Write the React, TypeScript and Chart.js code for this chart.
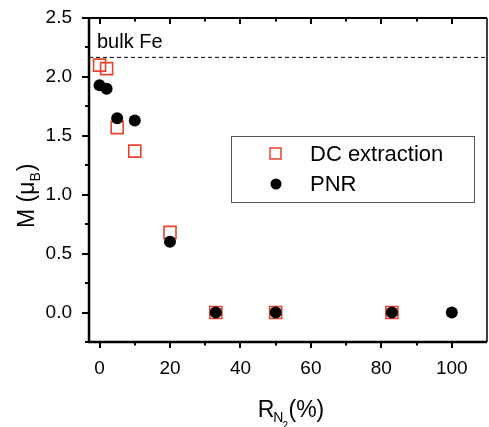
import React, { useEffect, useRef } from "react";
import { Chart, registerables } from "chart.js";

Chart.register(...registerables);

// Nitrogen ratio R_N2 (%) for each sample
const dcRatio = [0, 2, 5, 10, 20, 33, 50, 83];
const dcMoment = [2.1, 2.07, 1.57, 1.37, 0.68, 0, 0, 0];

const pnrRatio = [0, 2, 5, 10, 20, 33, 50, 83, 100];
const pnrMoment = [1.93, 1.9, 1.65, 1.63, 0.6, 0, 0, 0, 0];

// Moment of bulk iron (μB per atom)
const BULK_FE = 2.17;

const xMajorTicks = [0, 20, 40, 60, 80, 100];
const xMinorTicks = [10, 30, 50, 70, 90];
const yMajorTicks = [0, 0.5, 1.0, 1.5, 2.0, 2.5];
const yMinorTicks = [-0.25, 0.25, 0.75, 1.25, 1.75, 2.25];

const RED = "#e8432d";
const FONT = 'Arial, "Liberation Sans", sans-serif';

const framePlugin = {
  id: "frame",
  beforeDatasetsDraw(chart: any) {
    const { ctx, chartArea: a, scales } = chart;
    const y = scales.y.getPixelForValue(BULK_FE);
    ctx.save();
    ctx.strokeStyle = "#000";
    ctx.lineWidth = 1;
    ctx.setLineDash([4, 3]);
    ctx.beginPath();
    ctx.moveTo(a.left, y + 0.5);
    ctx.lineTo(a.right, y + 0.5);
    ctx.stroke();
    ctx.setLineDash([]);
    ctx.fillStyle = "#000";
    ctx.font = `20px ${FONT}`;
    ctx.textBaseline = "alphabetic";
    ctx.fillText("bulk Fe", a.left + 8, y - 9);
    ctx.restore();
  },
  afterDraw(chart: any) {
    const { ctx, chartArea: a, scales } = chart;
    const xs = scales.x;
    const ys = scales.y;
    ctx.save();
    ctx.strokeStyle = "#000";

    // frame: heavy left/bottom, lighter top/right
    ctx.lineWidth = 2.5;
    ctx.beginPath();
    ctx.moveTo(a.left, a.top - 1);
    ctx.lineTo(a.left, a.bottom);
    ctx.lineTo(a.right, a.bottom);
    ctx.stroke();
    ctx.lineWidth = 2;
    ctx.beginPath();
    ctx.moveTo(a.left, a.top);
    ctx.lineTo(a.right, a.top);
    ctx.stroke();
    ctx.lineWidth = 1.5;
    ctx.beginPath();
    ctx.moveTo(a.right, a.top);
    ctx.lineTo(a.right, a.bottom);
    ctx.stroke();

    // x ticks: outward at bottom, inward at top
    ctx.lineWidth = 2;
    const xt = (v: number, len: number) => {
      const px = Math.round(xs.getPixelForValue(v));
      ctx.beginPath();
      ctx.moveTo(px, a.bottom);
      ctx.lineTo(px, a.bottom + len);
      ctx.moveTo(px, a.top);
      ctx.lineTo(px, a.top + len);
      ctx.stroke();
    };
    xMajorTicks.forEach((v) => xt(v, 6));
    xMinorTicks.forEach((v) => xt(v, 3.5));

    // y ticks: outward on the left
    const yt = (v: number, len: number) => {
      const py = Math.round(ys.getPixelForValue(v));
      ctx.beginPath();
      ctx.moveTo(a.left, py);
      ctx.lineTo(a.left - len, py);
      ctx.stroke();
    };
    yMajorTicks.forEach((v) => yt(v, 7));
    yMinorTicks.forEach((v) => yt(v, 4));

    // legend box
    const lx = a.left + 142;
    const ly = a.top + 118;
    ctx.lineWidth = 1;
    ctx.strokeStyle = "#555";
    ctx.strokeRect(lx + 0.5, ly + 0.5, 243, 66);
    ctx.strokeStyle = RED;
    ctx.lineWidth = 1.5;
    ctx.strokeRect(lx + 39, ly + 12, 11, 11);
    ctx.fillStyle = "#000";
    ctx.beginPath();
    ctx.arc(lx + 45, ly + 48, 5.5, 0, Math.PI * 2);
    ctx.fill();
    ctx.font = `22px ${FONT}`;
    ctx.textBaseline = "middle";
    ctx.fillText("DC extraction", lx + 79, ly + 19);
    ctx.fillText("PNR", lx + 79, ly + 49);

    // x title: R_{N2} (%)
    ctx.textBaseline = "alphabetic";
    const big = `23px ${FONT}`;
    const sub = `14px ${FONT}`;
    const sub2 = `10px ${FONT}`;
    ctx.font = big;
    const wR = ctx.measureText("R").width;
    const wP = ctx.measureText("(%)").width;
    ctx.font = sub;
    const wN = ctx.measureText("N").width;
    const gap = 4;
    let x0 = (a.left + a.right) / 2 + 3 - (wR + wN + gap + wP) / 2;
    const base = 417;
    ctx.font = big;
    ctx.fillText("R", x0, base);
    x0 += wR;
    ctx.font = sub;
    ctx.fillText("N", x0 - 1, base + 5);
    ctx.font = sub2;
    ctx.fillText("2", x0 + wN - 2, base + 12);
    x0 += wN + gap;
    ctx.font = big;
    ctx.fillText("(%)", x0, base);

    // y title: M (μB)
    ctx.translate(34, 228);
    ctx.rotate(-Math.PI / 2);
    ctx.font = big;
    ctx.fillText("M (μ", 0, 0);
    let tx = ctx.measureText("M (μ").width;
    ctx.font = sub;
    ctx.fillText("B", tx, 6);
    tx += ctx.measureText("B").width;
    ctx.font = big;
    ctx.fillText(")", tx + 1, 0);
    ctx.restore();
  },
};

export default function App() {
  const ref = useRef<HTMLCanvasElement | null>(null);

  useEffect(() => {
    document.body.style.margin = "0";
    const canvas = ref.current;
    if (!canvas) return;
    const chart = new Chart(canvas, {
      type: "scatter",
      data: {
        datasets: [
          {
            label: "DC extraction",
            data: dcRatio.map((x, i) => ({ x, y: dcMoment[i] })),
            pointStyle: "rect",
            pointRadius: 8.5,
            pointBorderWidth: 1.6,
            borderColor: RED,
            backgroundColor: "rgba(255,255,255,0)",
            order: 1,
          },
          {
            label: "PNR",
            data: pnrRatio.map((x, i) => ({ x, y: pnrMoment[i] })),
            pointStyle: "circle",
            pointRadius: 6,
            pointBorderWidth: 0,
            borderColor: "#000",
            backgroundColor: "#000",
            order: 0,
          },
        ],
      },
      plugins: [framePlugin],
      options: {
        responsive: false,
        animation: false,
        devicePixelRatio: 1,
        layout: { autoPadding: false, padding: { top: 18, right: 2, left: 0, bottom: 0 } },
        plugins: {
          legend: { display: false },
          tooltip: { enabled: false },
        },
        scales: {
          x: {
            type: "linear",
            min: -3,
            max: 110,
            grid: { display: false },
            border: { display: false },
            afterBuildTicks: (s: any) => {
              s.ticks = xMajorTicks.map((value) => ({ value }));
            },
            afterFit: (s: any) => {
              s.height = 85;
              s.paddingLeft = 0;
              s.paddingRight = 0;
            },
            ticks: {
              padding: 7,
              color: "#000",
              font: { family: FONT, size: 19 },
              callback: (v: any) => String(v),
            },
          },
          y: {
            type: "linear",
            min: -0.25,
            max: 2.5,
            grid: { display: false },
            border: { display: false },
            afterBuildTicks: (s: any) => {
              s.ticks = yMajorTicks.map((value) => ({ value }));
            },
            afterFit: (s: any) => {
              s.width = 89;
              s.paddingTop = 0;
              s.paddingBottom = 0;
            },
            ticks: {
              padding: 9,
              color: "#000",
              font: { family: FONT, size: 19 },
              callback: (v: any) => Number(v).toFixed(1),
            },
          },
        },
      },
    });
    return () => chart.destroy();
  }, []);

  return (
    <div style={{ position: "absolute", left: 0, top: 0, width: 489, height: 427 }}>
      <canvas ref={ref} width={489} height={427} style={{ width: 489, height: 427 }} />
    </div>
  );
}
